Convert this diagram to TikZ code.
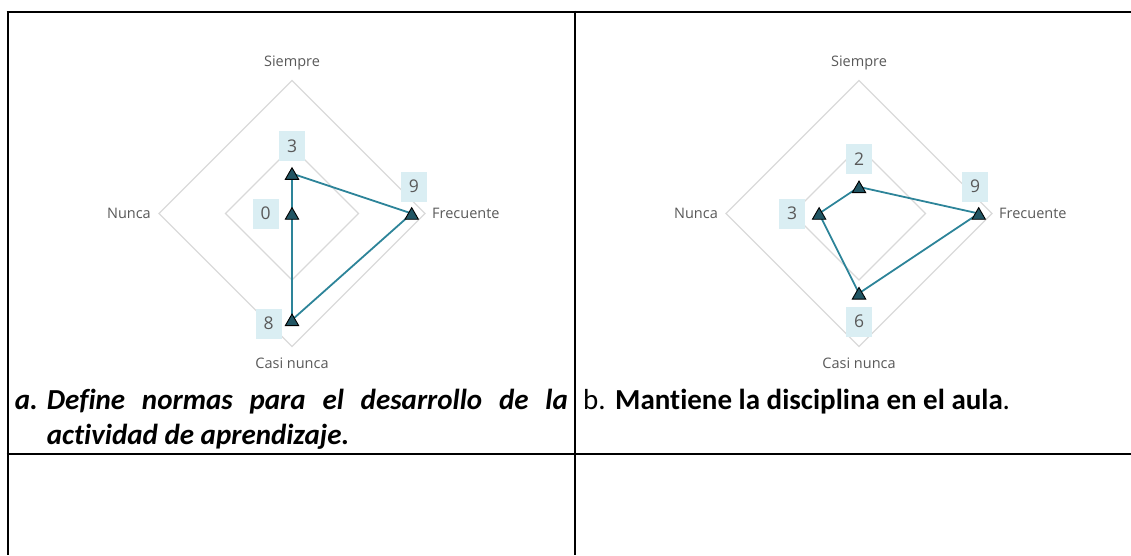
\documentclass[tikz,border=0pt]{standalone}
\usepackage{fontspec}
\setmainfont{Carlito}[Ligatures=NoCommon]
\newfontfamily\chartfont{Open Sans}
\usetikzlibrary{shapes.geometric}
\definecolor{gridColor}{RGB}{217,217,217}
\definecolor{textGray}{RGB}{89,89,89}
\definecolor{seriesColor}{RGB}{45,132,153}
\definecolor{markerColor}{RGB}{33,85,99}
\definecolor{labelBack}{RGB}{218,238,243}
\tikzset{
  gridLine/.style={gridColor,line width=1.3pt},
  seriesLine/.style={seriesColor,line width=1.8pt,line join=round},
  dataTri/.style={regular polygon,regular polygon sides=3,minimum size=15.5pt,inner sep=0pt,
    fill=markerColor,draw=black,line width=0.9pt,yshift=-1.9pt},
  valueBox/.style={fill=labelBack,minimum width=26pt,minimum height=30pt,inner sep=0pt,
    text=textGray,font=\chartfont\fontsize{17.5}{20}\selectfont},
  axisText/.style={inner sep=0pt,text=textGray,font=\chartfont\fontsize{14.5}{17}\selectfont},
  ruleLine/.style={black,line width=2pt},
  captionText/.style={inner sep=0pt,anchor=base west,align=justify,
    font=\fontsize{29}{35.4}\selectfont}
}
\begin{document}
\begin{tikzpicture}[x=1pt,y=-1pt]
\useasboundingbox (0,0) rectangle (1131,555);
% chart a
\begin{scope}[shift={(292,213.5)}]
\foreach \r in {66.5,133}
  \draw[gridLine] (0,-\r) -- (\r,0) -- (0,\r) -- (-\r,0) -- cycle;
\coordinate (aS) at (0,-39.9);
\coordinate (aF) at (119.7,0);
\coordinate (aC) at (0,106.4);
\coordinate (aN) at (0,0);
\draw[seriesLine] (aS) -- (aF) -- (aC) -- (aN) -- cycle;
\node[dataTri] (aSm) at (aS) {};
\node[dataTri] (aFm) at (aF) {};
\node[dataTri] (aCm) at (aC) {};
\node[dataTri] (aNm) at (aN) {};
\node[valueBox] (aSv) at (0,-67.5) {3};
\node[valueBox] (aFv) at (121.8,-26.8) {9};
\node[valueBox] (aCv) at (-23.5,110) {8};
\node[valueBox] (aNv) at (-26.5,0) {0};
\node[axisText,anchor=base] (aSiempre) at (0,-147.5) {Siempre};
\node[axisText,anchor=base west] (aFrecuente) at (140,5) {Frecuente};
\node[axisText,anchor=base] (aCasi) at (0,155) {Casi nunca};
\node[axisText,anchor=base east] (aNunca) at (-141,5) {Nunca};
\end{scope}
% chart b
\begin{scope}[shift={(859,213.5)}]
\foreach \r in {66.5,133}
  \draw[gridLine] (0,-\r) -- (\r,0) -- (0,\r) -- (-\r,0) -- cycle;
\coordinate (bS) at (0,-26.6);
\coordinate (bF) at (119.7,0);
\coordinate (bC) at (0,79.8);
\coordinate (bN) at (-39.9,0);
\draw[seriesLine] (bS) -- (bF) -- (bC) -- (bN) -- cycle;
\node[dataTri] (bSm) at (bS) {};
\node[dataTri] (bFm) at (bF) {};
\node[dataTri] (bCm) at (bC) {};
\node[dataTri] (bNm) at (bN) {};
\node[valueBox] (bSv) at (0,-54.5) {2};
\node[valueBox] (bFv) at (116,-26.8) {9};
\node[valueBox] (bCv) at (0,108.2) {6};
\node[valueBox] (bNv) at (-67,0) {3};
\node[axisText,anchor=base] (bSiempre) at (0,-147.5) {Siempre};
\node[axisText,anchor=base west] (bFrecuente) at (140,5) {Frecuente};
\node[axisText,anchor=base] (bCasi) at (0,155) {Casi nunca};
\node[axisText,anchor=base east] (bNunca) at (-141,5) {Nunca};
\end{scope}
% table rules
\coordinate (topL) at (6.5,11.7);
\coordinate (topR) at (1131,11.7);
\coordinate (leftB) at (7.5,555);
\coordinate (midT) at (575,10.7);
\coordinate (midB) at (575,555);
\coordinate (rowL) at (6.5,453.5);
\coordinate (rowR) at (1131,453.5);
\draw[ruleLine] (topL) -- (topR);
\draw[ruleLine] (topL -| leftB) -- (leftB);
\draw[ruleLine] (midT) -- (midB);
\draw[ruleLine] (rowL) -- (rowR);
% captions
\node[captionText,text width=553pt] (capA) at (14.7,409)
  {\hyphenpenalty=10000\exhyphenpenalty=10000\tolerance=9999\hbadness=10000
   \hangindent=32pt\hangafter=1\bfseries\itshape
   \makebox[32pt][l]{a.}Define normas para el desarrollo de la actividad de aprendizaje.\par};
\node[captionText,text width=540pt] (capB) at (583,409)
  {\makebox[32pt][l]{b.}\textbf{Mantiene la disciplina en el aula}.\par};
\end{tikzpicture}
\end{document}
